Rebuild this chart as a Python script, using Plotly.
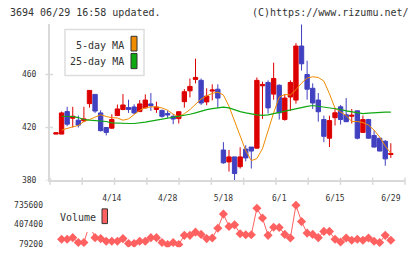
import plotly.graph_objects as go

# ---------------- data ----------------
idx = list(range(61))
tick_idx = [10, 20, 30, 40, 50, 60]
tick_text = ["4/14", "4/28", "5/18", "6/1", "6/15", "6/29"]

open_ = [415, 415, 432, 427, 425.5, 425, 438, 445, 431, 420, 419.5, 429, 433.6, 435, 435.5, 432,
         434.8, 437.8, 433.6, 432.9, 430.6, 428.4, 426.7, 439.5, 447.7, 456.3, 455.6, 439.3, 447.5,
         448.9, 403, 394, 397.8, 390.4, 403.7, 405.2, 404.4, 451.5, 454, 445.2, 451.9, 426, 443,
         440.7, 481.5, 460, 449.6, 440.7, 426, 411.9, 427.4, 435.6, 429.6, 428.5, 432.6, 416.3,
         426, 414, 411.9, 409.6, 399.6]
close = [416, 431, 422.5, 428.5, 421.8, 426.5, 448, 432.4, 417.6, 416.3, 426, 434, 437, 433.6, 431,
         437.8, 440.7, 436.5, 435.5, 428.4, 429.4, 426.4, 431.9, 447, 451, 457.8, 438.5, 443.7,
         448.3, 442.2, 393.3, 397.8, 385.2, 397.8, 397, 402.2, 455.6, 452.5, 434.8, 457, 431.1,
         442.2, 454, 481.5, 468.1, 448.9, 438.5, 431.9, 413.3, 425.2, 431.1, 426, 424.4, 429.2,
         411.9, 426, 411.9, 405.2, 402.2, 396.3, 400.4]
high = [416, 432, 435.6, 435.6, 429, 435.6, 448, 445, 433, 420, 430, 437.3, 445.2, 441, 437.5, 440.7,
        445, 446, 439.5, 433.5, 432.8, 430, 432, 449, 457, 472, 457, 449.6, 452.6, 452.6, 408.9,
        403, 397.8, 405, 406.6, 405.2, 457.8, 454.6, 455.6, 468.9, 452.6, 445.2, 455.6, 483.7,
        497.8, 470.4, 453.3, 446, 429, 428.9, 434.8, 437, 442.2, 434, 432.6, 429, 426.5, 417.8,
        412, 410.5, 408.1]
low = [415, 415, 421, 420, 420, 424, 435, 431, 417, 414, 419, 429, 433, 431, 430, 432, 434.5, 432.5,
       431, 427.4, 427.2, 422.5, 423, 435, 442.7, 453.3, 437, 436.8, 440.5, 434.8, 392.6, 386.7,
       379.3, 389, 394.4, 389, 404, 426.5, 430.5, 441, 426, 425.2, 432.6, 438, 463, 441, 434,
       424.4, 408.9, 405.2, 421.5, 422.2, 424, 423, 411, 416, 411.5, 405, 402, 391.1, 397]

ma5 = [None, 418, 419.5, 420.5, 421.5, 424.5, 426, 428.1, 429.6, 428.3, 427.4, 427.2, 425.5, 426.5,
       430, 433, 434.8, 435.6, 435.5, 434.8, 433, 430, 428, 430.4, 433.5, 437.5, 441.5, 443.8,
       445.8, 446.7, 444.5, 436, 424.5, 412.6, 402.5, 395, 396.5, 404, 418, 431, 443, 445, 444.5,
       448.5, 453.5, 457.3, 458.3, 457.8, 455, 445.5, 434.5, 431.5, 429, 424.5, 424.5, 423.7,
       421.8, 418, 412.8, 406, 400.5]
ma25 = [None, 428.5, 428.5, 428.3, 427.5, 426, 425.5, 425.3, 425.2, 424.5, 423.5, 423.2, 423, 423,
        423, 423.3, 424, 424.8, 425.5, 426.2, 426.8, 427.5, 428.3, 429.2, 430, 431, 432.5, 433.5,
        434.2, 435, 435.4, 434.8, 433.3, 432, 431, 430.2, 429.5, 429.2, 429.5, 430.5, 431.5,
        432.3, 433.5, 434.5, 435, 436, 436.6, 436, 435.3, 434.8, 434.5, 433.6, 432.5, 431.8, 431,
        430.5, 430.8, 431.2, 431.5, 431.6, 431.6]

volume = [None, 161000, 161000, 189000, 107000, 107000, 407000, 189000, 173000, 128000, 128000,
          128000, 173000, 91000, 91000, 128000, 128000, 189000, 189000, 107000, 75000, 107000,
          75000, 227000, 227000, 281000, 243000, 173000, 183000, 347000, 583000, 375000, 403000,
          255000, 238000, 238000, 681000, 517000, 227000, 363000, 358000, 243000, 183000, 731000,
          457000, 265000, 243000, 189000, 293000, 293000, 161000, 117000, 183000, 145000, 161000,
          145000, 183000, 128000, 107000, 227000, 145000]

price_ticks = [380, 420, 460]
vol_ticks = [79200, 407400, 735600]
vol_tick_text = ["79200", "407400", "735600"]

# ---------------- styling ----------------
W, H = 420, 259
RED = "#dd0000"
BLUE = "#4040c0"
ORANGE = "#f08c00"
GREEN = "#10a810"
VOLC = "#ff6060"
AX = "#d9d9d9"
TXT = "#333333"
MONO = "DejaVu Sans Mono"


def px(x):
    return x / W


def py(y):
    return 1 - y / H


XDOM = [px(50), px(405)]
XR = [-1.075, 62.54]

fig = go.Figure()
fig.add_trace(go.Candlestick(
    x=idx, open=open_, high=high, low=low, close=close,
    increasing=dict(line=dict(color=RED, width=1), fillcolor=RED),
    decreasing=dict(line=dict(color=BLUE, width=1), fillcolor=BLUE),
    whiskerwidth=0, showlegend=False, hoverinfo="skip"))
fig.add_trace(go.Scatter(x=idx, y=ma5, mode="lines", line=dict(color=ORANGE, width=1),
                         showlegend=False, hoverinfo="skip"))
fig.add_trace(go.Scatter(x=idx, y=ma25, mode="lines", line=dict(color=GREEN, width=1.2),
                         showlegend=False, hoverinfo="skip"))
fig.add_trace(go.Scatter(x=idx, y=volume, xaxis="x2", yaxis="y2", mode="lines+markers",
                         line=dict(color=VOLC, width=1),
                         marker=dict(symbol="diamond", size=7, color=VOLC),
                         showlegend=False, hoverinfo="skip"))

shapes = []
# y ticks (crossing the axis)
for v in price_ticks:
    shapes.append(dict(type="line", xref="paper", yref="y", x0=px(45.5), x1=px(53), y0=v, y1=v,
                       line=dict(color=AX, width=1.5)))
# x ticks at equal divisions
for k in range(12):
    xx = 50 + k * (355 / 11)
    shapes.append(dict(type="line", xref="paper", yref="paper", x0=px(xx), x1=px(xx),
                       y0=py(181), y1=py(188.5), line=dict(color=AX, width=1.5)))
# main legend box
shapes.append(dict(type="rect", xref="paper", yref="paper", x0=px(65), x1=px(144), y0=py(77),
                   y1=py(30), line=dict(color="#dddddd", width=1.5), fillcolor="white",
                   layer="above"))
shapes.append(dict(type="rect", xref="paper", yref="paper", x0=px(131), x1=px(137), y0=py(52),
                   y1=py(37), line=dict(color="#333333", width=1), fillcolor=ORANGE, layer="above"))
shapes.append(dict(type="rect", xref="paper", yref="paper", x0=px(131), x1=px(137), y0=py(70),
                   y1=py(54.5), line=dict(color="#333333", width=1), fillcolor=GREEN, layer="above"))
# volume legend background + swatch
shapes.append(dict(type="rect", xref="paper", yref="paper", x0=px(53), x1=px(114), y0=py(236.5),
                   y1=py(206), line=dict(width=0), fillcolor="white", layer="above"))
shapes.append(dict(type="rect", xref="paper", yref="paper", x0=px(102), x1=px(107.5), y0=py(228),
                   y1=py(213), line=dict(color="#333333", width=1), fillcolor=VOLC, layer="above"))

ann = [
    dict(text="3694 06/29 16:58 updated.", x=px(8), y=py(13), xanchor="left", yanchor="middle"),
    dict(text="(C)https://www.rizumu.net/", x=px(411), y=py(13), xanchor="right", yanchor="middle"),
    dict(text="5-day MA", x=px(126), y=py(46), xanchor="right", yanchor="middle"),
    dict(text="25-day MA", x=px(126), y=py(62.5), xanchor="right", yanchor="middle"),
    dict(text="Volume", x=px(58), y=py(222), xanchor="left", yanchor="middle"),
]
for a in ann:
    a.update(xref="paper", yref="paper", showarrow=False,
             font=dict(family=MONO, size=10, color=TXT))

tickfont = dict(family=MONO, size=8, color=TXT)
fig.update_layout(
    width=W, height=H, margin=dict(l=0, r=0, t=0, b=0),
    paper_bgcolor="white", plot_bgcolor="white", showlegend=False,
    boxgap=0.22, boxgroupgap=0,
    xaxis=dict(domain=XDOM, range=XR, tickvals=tick_idx, ticktext=tick_text, ticks="",
               showgrid=False, zeroline=False, showline=True, linecolor=AX, linewidth=2,
               rangeslider=dict(visible=False), tickfont=tickfont, ticklabelstandoff=9,
               anchor="y"),
    yaxis=dict(domain=[py(184), py(24)], range=[380, 498.5], tickvals=price_ticks, ticks="",
               showgrid=False, zeroline=False, showline=True, linecolor=AX, linewidth=2,
               tickfont=tickfont, ticklabelstandoff=10, anchor="x"),
    xaxis2=dict(domain=XDOM, range=XR, visible=False, anchor="y2"),
    yaxis2=dict(domain=[py(252), py(205)], range=[29970, 801240], tickvals=vol_ticks,
                ticktext=vol_tick_text, ticks="", showgrid=False, zeroline=False, showline=False,
                tickfont=tickfont, ticklabelstandoff=6, anchor="x2"),
    shapes=shapes, annotations=ann,
)

fig.write_html("out.html")
